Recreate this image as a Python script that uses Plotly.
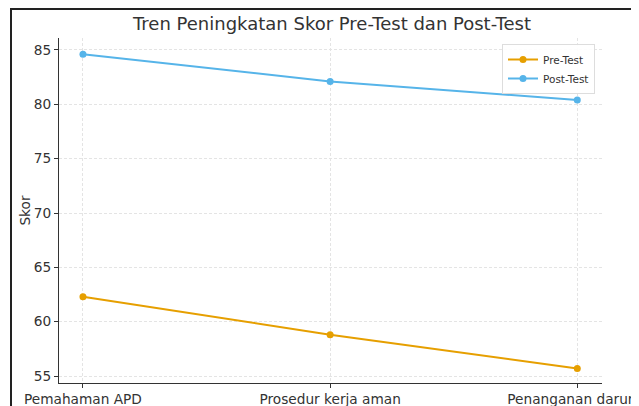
import plotly.graph_objects as go

categories = ["Pemahaman APD", "Prosedur kerja aman", "Penanganan darurat"]
pre_test = [62.3, 58.8, 55.7]
post_test = [84.6, 82.1, 80.4]
y_ticks = [55, 60, 65, 70, 75, 80, 85]

# page offset (default body margin of the html page)
OFF = 8
WIN_W, WIN_H = 639, 406
W, H = WIN_W - OFF, WIN_H - OFF
# plot area in window pixels: x 59..602, y 38..383
L, R, T, B = 59 - OFF, WIN_W - 602, 38 - OFF, WIN_H - 383
pw, ph = W - L - R, H - T - B

fig = go.Figure()
fig.add_trace(go.Scatter(x=[0, 1, 2], y=pre_test, mode="lines+markers", name="Pre-Test",
                         line=dict(color="#E69F00", width=2), marker=dict(size=7, color="#E69F00")))
fig.add_trace(go.Scatter(x=[0, 1, 2], y=post_test, mode="lines+markers", name="Post-Test",
                         line=dict(color="#56B4E9", width=2), marker=dict(size=7, color="#56B4E9")))

def px_x(x):  # window pixel -> paper
    return (x - OFF - L) / pw

def px_y(y):
    return (H - B - (y - OFF)) / ph

fig.update_layout(
    width=W, height=H,
    margin=dict(l=L, r=R, t=T, b=B, autoexpand=False),
    paper_bgcolor="white", plot_bgcolor="white",
    font=dict(family="DejaVu Sans", size=13, color="#333333"),
    title=dict(text="Tren Peningkatan Skor Pre-Test dan Post-Test", x=px_x(332), xanchor="center",
               y=1 - (24 - OFF) / H, yanchor="middle", xref="paper",
               font=dict(size=18, color="#333333")),
    showlegend=True,
    legend=dict(x=px_x(595), y=px_y(44), xanchor="right", yanchor="top",
                bgcolor="rgba(255,255,255,0.9)", bordercolor="#dddddd", borderwidth=1,
                font=dict(size=10.5, color="#333333"), itemwidth=30, tracegroupgap=0),
    xaxis=dict(range=[-0.097, 2.1], tickvals=[0, 1, 2], ticktext=categories,
               showgrid=True, gridcolor="#e4e4e4", griddash="3px,2px", gridwidth=1,
               showline=True, linecolor="#333333", linewidth=1, automargin=False,
               ticklabeloverflow="allow",
               ticks="outside", ticklen=4, tickcolor="#333333", zeroline=False,
               tickfont=dict(size=13.7)),
    yaxis=dict(range=[54.36, 86.1], tickvals=y_ticks, automargin=False,
               title=dict(text="Skor", font=dict(size=13.7), standoff=0),
               showgrid=True, gridcolor="#e4e4e4", griddash="3px,2px", gridwidth=1,
               showline=True, linecolor="#333333", linewidth=1,
               ticks="outside", ticklen=4, tickcolor="#333333", zeroline=False,
               tickfont=dict(size=13.7)),
    shapes=[
        dict(type="line", xref="paper", yref="paper", x0=px_x(11), x1=px_x(11), y0=px_y(9), y1=px_y(WIN_H + 5),
             line=dict(color="#222222", width=2)),
        dict(type="line", xref="paper", yref="paper", x0=px_x(10), x1=px_x(WIN_W + 5), y0=px_y(9), y1=px_y(9),
             line=dict(color="#222222", width=2)),
    ],
)

fig.write_html("out.html")
